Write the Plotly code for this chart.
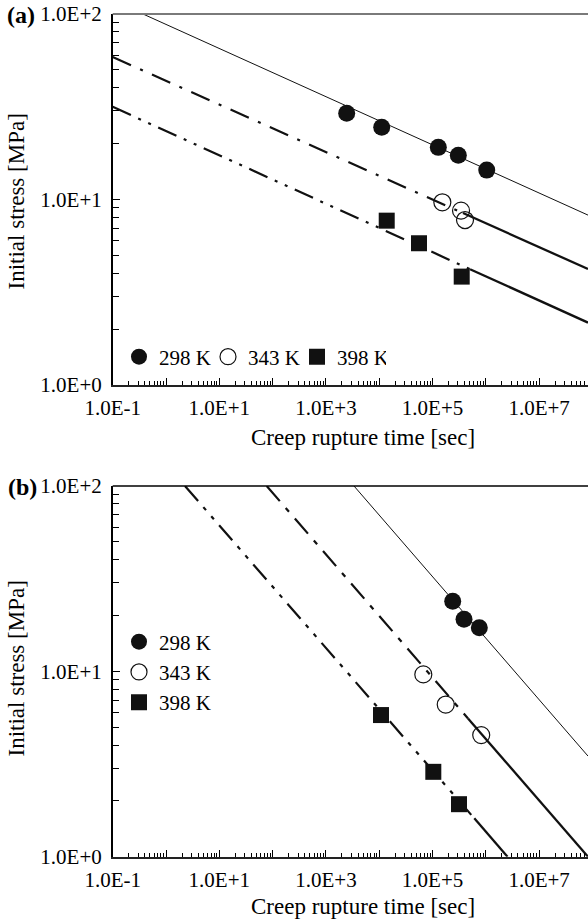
import plotly.graph_objects as go

# ---------------- data ----------------
# Panel (a): creep rupture time [sec] vs initial stress [MPa]
a_298_time = [2455, 11140, 128500, 305000, 1.04e6]
a_298_stress = [29.2, 24.5, 19.1, 17.3, 14.4]
a_343_time = [152800, 342800, 407000]
a_343_stress = [9.66, 8.71, 7.75]
a_398_time = [13830, 55800, 353000]
a_398_stress = [7.69, 5.81, 3.84]

# fitted lines (a): [start, (break), end]
a_fit_298_time = [0.37, 8.26e7]
a_fit_298_stress = [100, 8.24]
a_fit_343_time = [0.1, 3.73e5, 8.26e7]
a_fit_343_stress = [58.6, 8.45, 4.22]
a_fit_398_time = [0.1, 5.06e5, 8.26e7]
a_fit_398_stress = [31.6, 4.21, 2.17]

# Panel (b)
b_298_time = [239300, 390000, 755000]
b_298_stress = [23.9, 19.1, 17.2]
b_343_time = [67200, 177000, 820000]
b_343_stress = [9.63, 6.62, 4.53]
b_398_time = [10800, 103500, 314000]
b_398_stress = [5.81, 2.87, 1.92]

b_fit_298_time = [3365, 8.26e7]
b_fit_298_stress = [100, 3.49]
b_fit_343_time = [77.5, 4.635e5, 8.26e7]
b_fit_343_stress = [100, 5.57, 1.0]
b_fit_398_time = [2.27, 6.08e5, 2.55e6]
b_fit_398_stress = [100, 1.61, 1.0]

series_names = ["298 K", "343 K", "398 K"]
x_exponents = list(range(-1, 8))
x_tick_labels = ["1.0E-1", "", "1.0E+1", "", "1.0E+3", "", "1.0E+5", "", "1.0E+7"]
y_exponents = [0, 1, 2]
y_tick_labels = ["1.0E+0", "1.0E+1", "1.0E+2"]

# ---------------- styling ----------------
W, H = 588, 919
FONT = "Liberation Serif"
INK = "#111111"
TICK_SIZE = 21
TITLE_SIZE = 23

def px_x(p):
    return p / W

def px_y(p):
    return (H - p) / H

fig = go.Figure()

def add_fit(t, s, xa, ya, dash, thin=False):
    if thin:
        fig.add_trace(go.Scatter(x=t, y=s, mode="lines", xaxis=xa, yaxis=ya,
                                 line=dict(color=INK, width=1), showlegend=False,
                                 hoverinfo="skip"))
        return
    fig.add_trace(go.Scatter(x=t[:2], y=s[:2], mode="lines", xaxis=xa, yaxis=ya,
                             line=dict(color=INK, width=2.2, dash=dash),
                             showlegend=False, hoverinfo="skip"))
    fig.add_trace(go.Scatter(x=t[1:], y=s[1:], mode="lines", xaxis=xa, yaxis=ya,
                             line=dict(color=INK, width=2.3),
                             showlegend=False, hoverinfo="skip"))

# panel (a) lines
add_fit(a_fit_298_time, a_fit_298_stress, "x", "y", None, thin=True)
add_fit(a_fit_343_time, a_fit_343_stress, "x", "y", "20px,10px,3px,10px")
add_fit(a_fit_398_time, a_fit_398_stress, "x", "y", "20px,8px,3px,8px,3px,8px")
# panel (b) lines
add_fit(b_fit_298_time, b_fit_298_stress, "x2", "y2", None, thin=True)
add_fit(b_fit_343_time, b_fit_343_stress, "x2", "y2", "20px,9px,5px,9px")
add_fit(b_fit_398_time, b_fit_398_stress, "x2", "y2", "20px,8px,4px,8px,4px,8px")

marker_styles = [
    dict(symbol="circle", size=17, color=INK),
    dict(symbol="circle-open", size=17, color=INK, line=dict(width=1.2, color=INK)),
    dict(symbol="square", size=16, color=INK),
]

a_pts = [(a_298_time, a_298_stress), (a_343_time, a_343_stress), (a_398_time, a_398_stress)]
b_pts = [(b_298_time, b_298_stress), (b_343_time, b_343_stress), (b_398_time, b_398_stress)]

for (t, s), name, m in zip(a_pts, series_names, marker_styles):
    fig.add_trace(go.Scatter(x=t, y=s, mode="markers", name=name, marker=m,
                             xaxis="x", yaxis="y", legend="legend", cliponaxis=False))
for (t, s), name, m in zip(b_pts, series_names, marker_styles):
    fig.add_trace(go.Scatter(x=t, y=s, mode="markers", name=name, marker=m,
                             xaxis="x2", yaxis="y2", legend="legend2", cliponaxis=False))

x_tickvals = [10.0 ** e for e in x_exponents]
x_minor = [k * 10.0 ** e for e in x_exponents for k in range(2, 10)]
y_tickvals = [10.0 ** e for e in y_exponents]
y_minor = [k * 10.0 ** e for e in y_exponents[:-1] for k in range(2, 10)]

x_left = 112.7
a_top, a_bot = 14, 385
b_top, b_bot = 486, 856.7

def xaxis_cfg(anchor):
    return dict(type="log", range=[-1, 7.917], domain=[px_x(x_left), 1.0], anchor=anchor,
                automargin=False,
                tickmode="array", tickvals=x_tickvals, ticktext=x_tick_labels,
                ticks="inside", ticklen=7, tickwidth=1, tickcolor="black",
                minor=dict(tickmode="array", tickvals=x_minor, ticks="inside",
                           ticklen=4, tickwidth=1, tickcolor="black", showgrid=False),
                showline=True, linecolor="#222", linewidth=2, showgrid=False, zeroline=False,
                tickfont=dict(family=FONT, size=TICK_SIZE, color="black"), ticklabelstandoff=3)

def yaxis_cfg(anchor, top, bot):
    return dict(type="log", range=[0, 2], domain=[px_y(bot), px_y(top)], anchor=anchor,
                automargin=False,
                tickmode="array", tickvals=y_tickvals, ticktext=y_tick_labels,
                ticks="inside", ticklen=8, tickwidth=1, tickcolor="black",
                minor=dict(tickmode="array", tickvals=y_minor, ticks="inside",
                           ticklen=7, tickwidth=1, tickcolor="black", showgrid=False),
                showline=True, linecolor="black", linewidth=1.5, showgrid=False, zeroline=False,
                tickfont=dict(family=FONT, size=TICK_SIZE, color="black"), ticklabelstandoff=5)

fig.update_layout(
    width=W, height=H, margin=dict(l=0, r=0, t=0, b=0, autoexpand=False),
    paper_bgcolor="white", plot_bgcolor="white",
    font=dict(family=FONT, size=TICK_SIZE, color="black"),
    xaxis=xaxis_cfg("y"), yaxis=yaxis_cfg("x", a_top, a_bot),
    xaxis2=xaxis_cfg("y2"), yaxis2=yaxis_cfg("x2", b_top, b_bot),
    legend=dict(orientation="h", x=px_x(119), y=px_y(357), xanchor="left", yanchor="middle",
                bgcolor="rgba(0,0,0,0)", font=dict(family=FONT, size=TICK_SIZE, color="black"),
                entrywidth=44, entrywidthmode="pixels"),
    legend2=dict(orientation="v", x=px_x(119), y=px_y(672), xanchor="left", yanchor="middle",
                 bgcolor="rgba(0,0,0,0)", font=dict(family=FONT, size=TICK_SIZE, color="black")),
    showlegend=True,
)

# top borders
fig.add_shape(type="line", xref="x domain", yref="y domain", x0=0, x1=1, y0=1, y1=1,
              line=dict(color="#7a7a7a", width=2))
fig.add_shape(type="line", xref="x2 domain", yref="y2 domain", x0=0, x1=1, y0=1, y1=1,
              line=dict(color="black", width=1.5))

ann = [
    dict(text="<b>(a)</b>", x=px_x(21), y=px_y(15), size=24, angle=0),
    dict(text="<b>(b)</b>", x=px_x(22), y=px_y(487), size=24, angle=0),
    dict(text="Initial stress [MPa]", x=px_x(15.5), y=px_y(202), size=TITLE_SIZE, angle=-90),
    dict(text="Initial stress [MPa]", x=px_x(15.5), y=px_y(669), size=TITLE_SIZE, angle=-90),
    dict(text="Creep rupture time [sec]", x=px_x(363), y=px_y(437), size=TITLE_SIZE, angle=0),
    dict(text="Creep rupture time [sec]", x=px_x(363), y=px_y(906), size=TITLE_SIZE, angle=0),
]
for a in ann:
    fig.add_annotation(text=a["text"], x=a["x"], y=a["y"], xref="paper", yref="paper",
                       xanchor="center", yanchor="middle", showarrow=False,
                       textangle=a["angle"],
                       font=dict(family=FONT, size=a["size"], color="black"))

fig.write_html("out.html")
